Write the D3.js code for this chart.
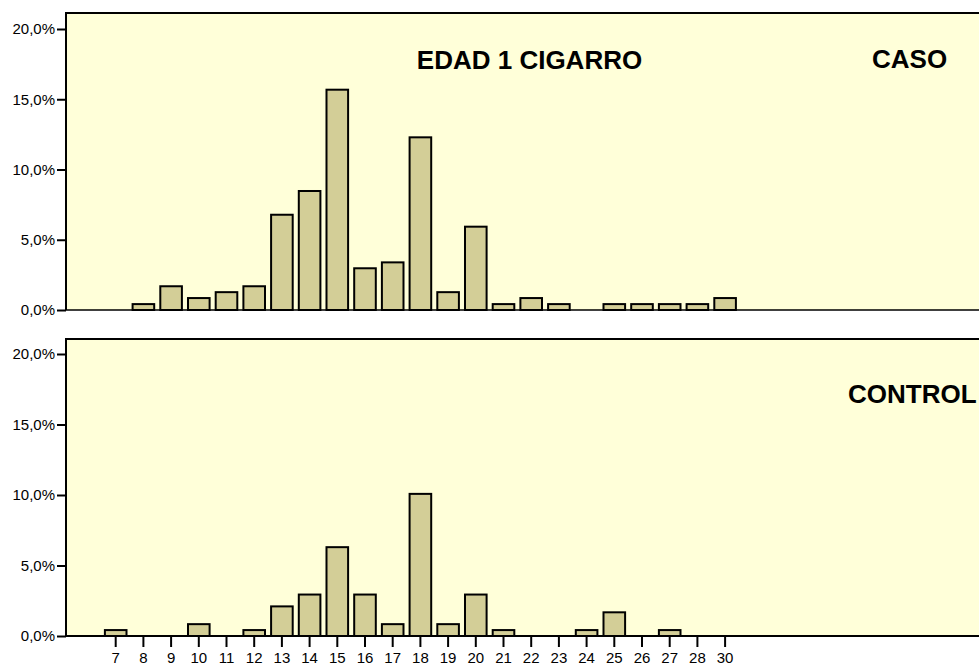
<html>
<head>
<style>
  body { margin: 0; background: #fff; }
  text { font-family: Arial, "Liberation Sans", sans-serif; fill: #000; }
  .bar { fill: #d3ce97; stroke: #000; stroke-width: 2px; }
  .frame { stroke: #000; stroke-width: 2px; fill: none; }
  .title { font-size: 26px; font-weight: bold; }
  .axis text { font-size: 15px; }
  .axis line { stroke: #000; stroke-width: 2px; }
</style>
</head>
<body>
<svg width="979" height="666"></svg>

<script src="https://d3js.org/d3.v7.min.js"></script>
<script>

var ages = ["7","8","9","10","11","12","13","14","15","16","17","18","19","20","21","22","23","24","25","26","27","28","30"];

// percent per age
var caso    = [0, 0.42, 1.69, 0.85, 1.27, 1.69, 6.78, 8.47, 15.68, 2.97, 3.39, 12.29, 1.27, 5.93, 0.42, 0.85, 0.42, 0, 0.42, 0.42, 0.42, 0.42, 0.85];
var control = [0.42, 0, 0, 0.84, 0, 0.42, 2.1, 2.94, 6.3, 2.94, 0.84, 10.08, 0.84, 2.94, 0.42, 0, 0, 0.42, 1.68, 0, 0.42, 0, 0];

var yTicks = [0, 5, 10, 15, 20];

var svg = d3.select("svg");

var x = d3.scaleBand()
    .domain(ages)
    .range([101.85, 738.95])
    .paddingInner(0.22)
    .paddingOuter(0.11);

var fmt = function(d) { return d3.format(".1f")(d).replace(".", ",") + "%"; };

var panels = [
  {name: "caso", values: caso, top: 13, y20: 29, base: 310, label: "CASO", lx: 872, ly: 68, ticks: false},
  {name: "control", values: control, top: 339, y20: 354, base: 636, label: "CONTROL", lx: 848, ly: 403, ticks: true}
];

panels.forEach(function(p) {
  var y = d3.scaleLinear().domain([0, 20]).range([p.base, p.y20]);
  var g = svg.append("g");

  g.append("rect")
      .attr("x", 66).attr("y", p.top)
      .attr("width", 1000).attr("height", p.base - p.top)
      .attr("fill", "#ffffd9");

  g.selectAll(".bar")
      .data(p.values.map(function(v, i) { return {age: ages[i], v: v}; }).filter(function(d) { return d.v > 0; }))
    .enter().append("rect")
      .attr("class", "bar")
      .attr("x", function(d) { return x(d.age); })
      .attr("width", x.bandwidth())
      .attr("y", function(d) { return y(d.v); })
      .attr("height", function(d) { return y(0) - y(d.v); });

  // frame: left and top border
  g.append("path")
      .attr("class", "frame")
      .attr("d", "M66," + p.base + "V" + p.top + "H979");

  // baseline
  g.append("line")
      .attr("x1", 66).attr("x2", 979)
      .attr("y1", p.base).attr("y2", p.base)
      .attr("stroke", "#000")
      .attr("stroke-width", p.ticks ? 2 : 1.5);

  var ya = g.append("g")
      .attr("class", "axis")
      .attr("transform", "translate(66,0)")
      .call(d3.axisLeft(y).tickValues(yTicks).tickFormat(fmt).tickSize(9).tickPadding(2));
  ya.select(".domain").remove();

  if (p.ticks) {
    var xa = g.append("g")
        .attr("class", "axis")
        .attr("transform", "translate(0," + p.base + ")")
        .call(d3.axisBottom(x).tickSize(11).tickPadding(5.5));
    xa.select(".domain").remove();
  }

  g.append("text")
      .attr("class", "title")
      .attr("x", p.lx).attr("y", p.ly)
      .text(p.label);
});

svg.append("text")
    .attr("class", "title")
    .attr("x", 529.5).attr("y", 69)
    .attr("text-anchor", "middle")
    .text("EDAD 1 CIGARRO");

</script>
</body>
</html>
